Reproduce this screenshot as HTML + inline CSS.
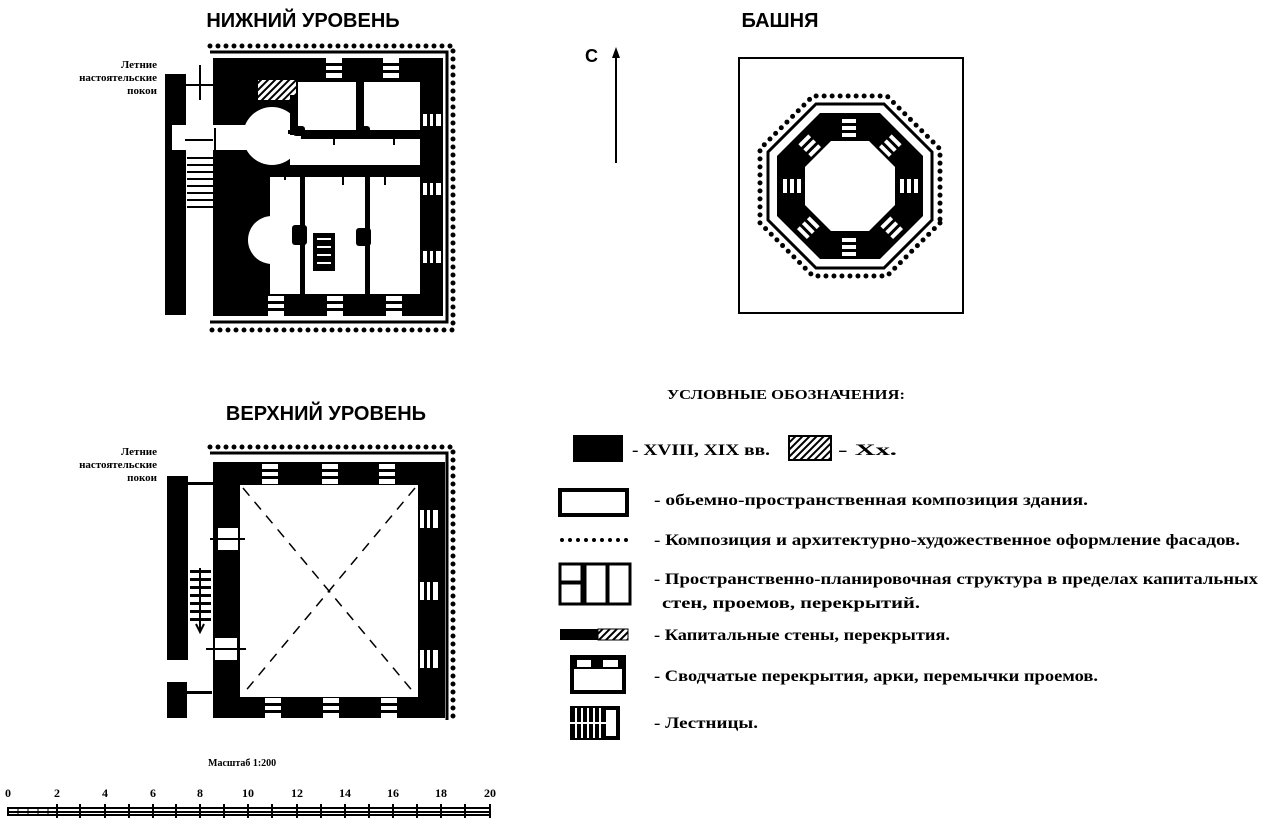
<!DOCTYPE html>
<html><head><meta charset="utf-8"><style>
body{margin:0;background:#fff;width:1264px;height:823px;overflow:hidden}
svg{display:block}
text{font-family:"Liberation Serif",serif;font-weight:bold;fill:#000}
.t{font-family:"Liberation Sans",sans-serif;font-weight:bold}
</style></head><body>
<svg width="1264" height="823" viewBox="0 0 1264 823" xmlns="http://www.w3.org/2000/svg">
<defs>
<pattern id="h" width="5" height="5" patternUnits="userSpaceOnUse" patternTransform="rotate(45)"><rect width="5" height="5" fill="#fff"/><rect width="2" height="5" fill="#000"/></pattern>
<g id="wh"><rect width="16" height="20" fill="#fff"/><rect y="5" width="16" height="3" fill="#000"/><rect y="12" width="16" height="3" fill="#000"/></g>
<g id="wv"><rect width="18" height="12" fill="#fff"/><rect x="4" width="3" height="12" fill="#000"/><rect x="10" width="3" height="12" fill="#000"/></g>
</defs>

<text class="t" x="303" y="27" font-size="20" text-anchor="middle">НИЖНИЙ УРОВЕНЬ</text>
<text class="t" x="780" y="27" font-size="20" text-anchor="middle">БАШНЯ</text>
<text class="t" x="326" y="420" font-size="20" text-anchor="middle">ВЕРХНИЙ УРОВЕНЬ</text>
<text x="157" y="68" font-size="11" text-anchor="end">Летние</text>
<text x="157" y="81" font-size="11" text-anchor="end">настоятельские</text>
<text x="157" y="94" font-size="11" text-anchor="end">покои</text>
<text x="157" y="455" font-size="11" text-anchor="end">Летние</text>
<text x="157" y="468" font-size="11" text-anchor="end">настоятельские</text>
<text x="157" y="481" font-size="11" text-anchor="end">покои</text>

<g stroke="#000" stroke-width="5" stroke-linecap="round" stroke-dasharray="0 8" fill="none">
<path d="M210 46 H453 V330 H210"/>
</g>
<path d="M210 52 H447 V322 H210" stroke="#000" stroke-width="3" fill="none"/>
<rect x="213" y="58" width="230" height="258" fill="#000"/>
<rect x="165" y="74" width="21" height="241" fill="#000"/>
<rect x="298" y="82" width="58" height="48" fill="#fff"/>
<rect x="364" y="82" width="56" height="48" fill="#fff"/>
<rect x="290" y="139" width="130" height="26" fill="#fff"/>
<circle cx="272" cy="136" r="29" fill="#fff"/>
<rect x="172" y="125" width="110" height="25" fill="#fff"/>
<rect x="190" y="75" width="23" height="18" fill="#fff"/>
<rect x="270" y="177" width="150" height="117" fill="#fff"/>
<circle cx="272" cy="240" r="24" fill="#fff"/>
<rect x="258" y="80" width="38" height="20" fill="url(#h)"/>
<rect x="290" y="95" width="8" height="40" fill="#000"/>
<rect x="357" y="82" width="6" height="50" fill="#000"/>
<rect x="288" y="130" width="140" height="4" fill="#000"/>
<rect x="293" y="126" width="12" height="10" rx="3" fill="#000"/>
<rect x="356" y="126" width="14" height="10" rx="3" fill="#000"/>
<rect x="270" y="167" width="150" height="8" fill="#000"/>
<rect x="300" y="177" width="5" height="117" fill="#000"/>
<rect x="365" y="177" width="5" height="117" fill="#000"/>
<rect x="292" y="225" width="15" height="20" rx="3" fill="#000"/>
<rect x="356" y="228" width="15" height="18" rx="3" fill="#000"/>
<rect x="313" y="233" width="22" height="38" fill="#000"/>
<g fill="#fff"><rect x="317" y="238" width="14" height="2"/><rect x="317" y="246" width="14" height="2"/><rect x="317" y="254" width="14" height="2"/><rect x="317" y="262" width="14" height="2"/></g>
<rect x="187" y="152" width="26" height="66" fill="#fff"/>
<g fill="#000"><rect x="187" y="157" width="26" height="2"/><rect x="187" y="164" width="26" height="2"/><rect x="187" y="171" width="26" height="2"/><rect x="187" y="178" width="26" height="2"/><rect x="187" y="185" width="26" height="2"/><rect x="187" y="192" width="26" height="2"/><rect x="187" y="199" width="26" height="2"/><rect x="187" y="206" width="26" height="2"/></g>
<g stroke="#000" stroke-width="2"><path d="M200 65 V100 M185 85 H213 M185 140 H213 M215 128 V150 M285 167 V180 M343 168 V185 M385 168 V185 M334 130 V145 M394 130 V145"/></g>
<use href="#wh" x="326" y="58"/><use href="#wh" x="383" y="58"/>
<use href="#wh" x="268" y="296"/><use href="#wh" x="327" y="296"/><use href="#wh" x="386" y="296"/>
<use href="#wv" x="423" y="114"/><use href="#wv" x="423" y="183"/><use href="#wv" x="423" y="251"/>

<g stroke="#000" stroke-width="5" stroke-linecap="round" stroke-dasharray="0 8" fill="none">
<path d="M210 447 H453 V722"/>
</g>
<path d="M210 453 H447 V720" stroke="#000" stroke-width="3" fill="none"/>
<rect x="213" y="462" width="232" height="256" fill="#000"/>
<rect x="167" y="476" width="21" height="184" fill="#000"/>
<rect x="167" y="682" width="20" height="36" fill="#000"/>
<rect x="240" y="485" width="178" height="212" fill="#fff"/>
<path d="M243 488 L415 694 M415 488 L243 694" stroke="#000" stroke-width="1.5" stroke-dasharray="10 8"/>
<rect x="188" y="497" width="25" height="53" fill="#fff"/>
<rect x="188" y="563" width="25" height="72" fill="#fff"/>
<g fill="#000"><rect x="190" y="570" width="21" height="3"/><rect x="190" y="578" width="21" height="3"/><rect x="190" y="586" width="21" height="3"/><rect x="190" y="594" width="21" height="3"/><rect x="190" y="602" width="21" height="3"/><rect x="190" y="610" width="21" height="3"/><rect x="190" y="618" width="21" height="3"/></g>
<path d="M200 568 V630 M196 624 L200 632 L204 624" stroke="#000" stroke-width="2" fill="none"/>
<rect x="188" y="476" width="25" height="18" fill="#fff"/><rect x="188" y="482" width="25" height="3" fill="#000"/>
<rect x="187" y="685" width="25" height="18" fill="#fff"/><rect x="187" y="691" width="25" height="3" fill="#000"/>
<rect x="218" y="528" width="20" height="22" fill="#fff"/><rect x="218" y="538" width="20" height="2" fill="#000"/>
<rect x="215" y="638" width="22" height="22" fill="#fff"/><rect x="215" y="648" width="22" height="2" fill="#000"/>
<path d="M210 539 H245 M206 649 H246" stroke="#000" stroke-width="2"/>
<use href="#wh" x="262" y="464"/><use href="#wh" x="322" y="464"/><use href="#wh" x="379" y="464"/>
<use href="#wh" x="265" y="698"/><use href="#wh" x="323" y="698"/><use href="#wh" x="381" y="698"/>
<g transform="translate(420,510)"><use href="#wv" transform="scale(1,1.5)"/></g>
<g transform="translate(420,582)"><use href="#wv" transform="scale(1,1.5)"/></g>
<g transform="translate(420,650)"><use href="#wv" transform="scale(1,1.5)"/></g>

<text class="t" x="585" y="62" font-size="18" font-weight="normal">С</text>
<path d="M616 58 V163" stroke="#000" stroke-width="2"/>
<path d="M612 58 L616 47 L620 58 Z" fill="#000"/>

<rect x="739" y="58" width="224" height="255" fill="none" stroke="#000" stroke-width="2"/>
<g transform="translate(850,186)">
<polygon points="90,37 37,90 -37,90 -90,37 -90,-37 -37,-90 37,-90 90,-37" fill="none" stroke="#000" stroke-width="5" stroke-linecap="round" stroke-dasharray="0 8"/>
<polygon points="82,34 34,82 -34,82 -82,34 -82,-34 -34,-82 34,-82 82,-34" fill="none" stroke="#000" stroke-width="3"/>
<polygon points="73,30 30,73 -30,73 -73,30 -73,-30 -30,-73 30,-73 73,-30" fill="#000"/>
<polygon points="45,19 19,45 -19,45 -45,19 -45,-19 -19,-45 19,-45 45,-19" fill="#fff"/>
<g fill="#fff"><rect x="-8" y="-67" width="14" height="4"/><rect x="-8" y="-60" width="14" height="4"/><rect x="-8" y="-53" width="14" height="4"/>
<rect x="-8" y="52" width="14" height="4"/><rect x="-8" y="59" width="14" height="4"/><rect x="-8" y="66" width="14" height="4"/>
<rect x="-67" y="-7" width="4" height="14"/><rect x="-60" y="-7" width="4" height="14"/><rect x="-53" y="-7" width="4" height="14"/>
<rect x="50" y="-7" width="4" height="14"/><rect x="57" y="-7" width="4" height="14"/><rect x="64" y="-7" width="4" height="14"/>
<g transform="rotate(45)"><rect x="-7" y="-66" width="14" height="4"/><rect x="-7" y="-59" width="14" height="4"/><rect x="-7" y="-52" width="14" height="4"/><rect x="-7" y="50" width="14" height="4"/><rect x="-7" y="57" width="14" height="4"/><rect x="-7" y="64" width="14" height="4"/></g>
<g transform="rotate(-45)"><rect x="-7" y="-66" width="14" height="4"/><rect x="-7" y="-59" width="14" height="4"/><rect x="-7" y="-52" width="14" height="4"/><rect x="-7" y="50" width="14" height="4"/><rect x="-7" y="57" width="14" height="4"/><rect x="-7" y="64" width="14" height="4"/></g>
</g></g>

<text x="667" y="399" font-size="14" textLength="238" lengthAdjust="spacingAndGlyphs">УСЛОВНЫЕ ОБОЗНАЧЕНИЯ:</text>
<rect x="573" y="435" width="50" height="27" fill="#000"/>
<text x="632" y="455" font-size="16" textLength="138" lengthAdjust="spacingAndGlyphs">- XVIII, XIX вв.</text>
<rect x="789" y="436" width="42" height="24" fill="url(#h)" stroke="#000" stroke-width="2"/>
<text x="838" y="455" font-size="16" textLength="59" lengthAdjust="spacingAndGlyphs">- Хх.</text>
<rect x="560" y="490" width="67" height="25" fill="#fff" stroke="#000" stroke-width="4"/>
<text x="654" y="505" font-size="16" textLength="434" lengthAdjust="spacingAndGlyphs">- обьемно-пространственная композиция здания.</text>
<path d="M562 540 H628" stroke="#000" stroke-width="4" stroke-linecap="round" stroke-dasharray="0 8"/>
<text x="654" y="545" font-size="16" textLength="586" lengthAdjust="spacingAndGlyphs">- Композиция и архитектурно-художественное оформление фасадов.</text>
<g fill="none" stroke="#000" stroke-width="3"><rect x="560" y="564" width="22" height="18"/><rect x="560" y="583" width="22" height="21"/><rect x="585" y="564" width="22" height="40"/><rect x="608" y="564" width="22" height="40"/></g>
<text x="654" y="584" font-size="16" textLength="604" lengthAdjust="spacingAndGlyphs">- Пространственно-планировочная структура  в пределах капитальных</text>
<text x="662" y="608" font-size="16" textLength="258" lengthAdjust="spacingAndGlyphs">стен,  проемов,  перекрытий.</text>
<rect x="560" y="629" width="52" height="11" fill="#000"/>
<rect x="598" y="629" width="30" height="11" fill="url(#h)" stroke="#000" stroke-width="1"/>
<text x="654" y="640" font-size="16" textLength="296" lengthAdjust="spacingAndGlyphs">- Капитальные стены, перекрытия.</text>
<rect x="572" y="657" width="52" height="35" fill="#fff" stroke="#000" stroke-width="4"/>
<rect x="572" y="657" width="52" height="12" fill="#000"/>
<rect x="577" y="660" width="14" height="7" fill="#fff"/><rect x="603" y="660" width="15" height="7" fill="#fff"/>
<text x="654" y="681" font-size="16" textLength="444" lengthAdjust="spacingAndGlyphs">- Сводчатые перекрытия, арки, перемычки проемов.</text>
<rect x="570" y="706" width="50" height="34" fill="#000"/>
<g stroke="#fff" stroke-width="2"><path d="M576 708 V738 M582 708 V738 M588 708 V738 M594 708 V738 M600 708 V738 M570 723 H606"/></g>
<rect x="606" y="710" width="10" height="26" fill="#fff"/>
<text x="654" y="728" font-size="16" textLength="104" lengthAdjust="spacingAndGlyphs">- Лестницы.</text>

<text x="208" y="766" font-size="10">Масштаб 1:200</text>
<g font-size="12">
<text x="8" y="797" text-anchor="middle">0</text><text x="57" y="797" text-anchor="middle">2</text><text x="105" y="797" text-anchor="middle">4</text><text x="153" y="797" text-anchor="middle">6</text><text x="200" y="797" text-anchor="middle">8</text><text x="248" y="797" text-anchor="middle">10</text><text x="297" y="797" text-anchor="middle">12</text><text x="345" y="797" text-anchor="middle">14</text><text x="393" y="797" text-anchor="middle">16</text><text x="441" y="797" text-anchor="middle">18</text><text x="490" y="797" text-anchor="middle">20</text>
</g>
<g stroke="#000" stroke-width="2" fill="none">
<rect x="8" y="808" width="482" height="7"/>
<path d="M8 812 H490"/>
<path d="M57 804 V818 M80 804 V818 M105 804 V818 M129 804 V818 M153 804 V818 M176 804 V818 M200 804 V818 M224 804 V818 M248 804 V818 M272 804 V818 M297 804 V818 M321 804 V818 M345 804 V818 M369 804 V818 M393 804 V818 M417 804 V818 M441 804 V818 M465 804 V818 M490 804 V818"/>
<path d="M18 808 V815 M28 808 V815 M38 808 V815 M48 808 V815" stroke-width="1"/>
</g>
</svg>
</body></html>
